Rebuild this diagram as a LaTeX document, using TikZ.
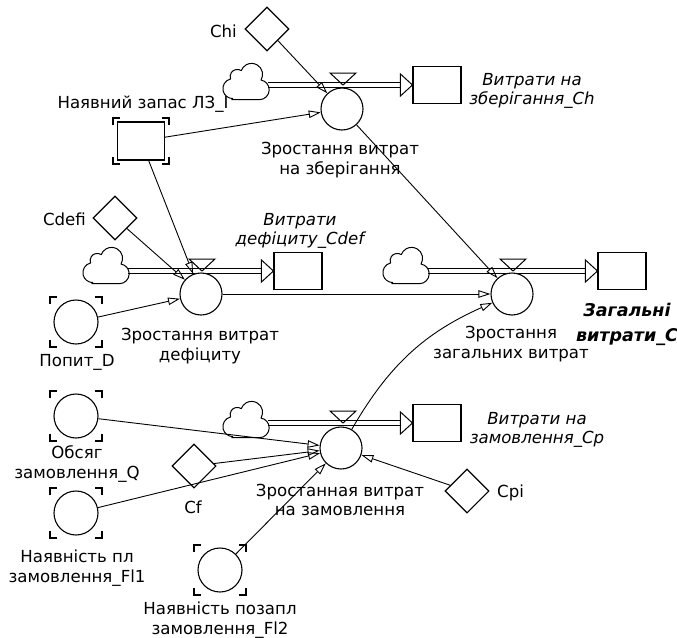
\documentclass[tikz,border=0pt]{standalone}
\usepackage{fontspec}
\setmainfont{DejaVu Sans}
\usetikzlibrary{arrows.meta,shapes.geometric,calc}

\tikzset{
  cloudpic/.pic={
    \draw[scale=1.1, line width=1pt, line join=round, fill=white]
      (-12,17) -- (13,17)
      arc[start angle=90, end angle=-80, radius=9]
      arc[start angle=31, end angle=-160, radius=10]
      arc[start angle=-56, end angle=-200, radius=6.5]
      arc[start angle=-103, end angle=-270, radius=9] -- cycle;
  }
}

\newcommand\flowpipe[2]{%
  \draw[pipeline] ($(#1)+(0,-2.6)$) -- ($(#2.west)+(-12,-2.6)$);
  \draw[pipeline] ($(#1)+(0,2.6)$) -- ($(#2.west)+(-12,2.6)$);
  \draw[flowhead] ($(#2.west)+(-12,-11)$) -- (#2.west) -- ($(#2.west)+(-12,11)$) -- cycle;}
\newcommand\valvemark[1]{%
  \draw[valveline] ($(#1)+(-13,-12)$) -- ($(#1)+(13,-12)$) -- (#1) -- cycle;}
\newcommand\ghostmarks[3]{%
  \draw[bracket] ($(#1)+(-#2,-#3)+(0,7)$) -- ($(#1)+(-#2,-#3)$) -- ($(#1)+(-#2,-#3)+(7,0)$);
  \draw[bracket] ($(#1)+(#2,-#3)+(0,7)$) -- ($(#1)+(#2,-#3)$) -- ($(#1)+(#2,-#3)+(-7,0)$);
  \draw[bracket] ($(#1)+(-#2,#3)+(0,-7)$) -- ($(#1)+(-#2,#3)$) -- ($(#1)+(-#2,#3)+(7,0)$);
  \draw[bracket] ($(#1)+(#2,#3)+(0,-7)$) -- ($(#1)+(#2,#3)$) -- ($(#1)+(#2,#3)+(-7,0)$);}

\begin{document}
\begin{tikzpicture}[x=1pt,y=-1pt,
  lbl/.style={font=\fontsize{16.6}{19.5}\selectfont, align=center, inner sep=0pt},
  ilbl/.style={font=\fontsize{16.6}{19.5}\selectfont\itshape, align=center, inner sep=0pt},
  blbl/.style={font=\fontsize{17.5}{25}\selectfont\bfseries\itshape, align=center, inner sep=0pt},
  rate/.style={circle, draw, fill=white, line width=1.1pt, minimum size=42pt, inner sep=0pt},
  aux/.style={circle, draw, line width=1.1pt, minimum size=44pt, inner sep=0pt},
  stockbox/.style={rectangle, draw, line width=1.1pt, minimum width=48pt, minimum height=37pt, inner sep=0pt},
  const/.style={diamond, draw, line width=1.1pt, minimum size=44pt, inner sep=0pt, aspect=1},
  link/.style={line width=0.9pt, -{Triangle[open, length=12pt, width=7.5pt, line width=0.9pt]}},
  pipeline/.style={line width=1pt},
  flowhead/.style={line width=1pt, line join=miter},
  valveline/.style={line width=1pt, line join=miter},
  bracket/.style={line width=1.1pt},
]
\fill[white] (0,0) rectangle (677,637);
\useasboundingbox (0,0) rectangle (677,637);

% ---------- storage chain ----------
\node[const] (chi) at (267,29) {};
\node[lbl, anchor=east] (chil) at (237,31) {Chi};
\pic at (245,81) {cloudpic};
\coordinate (cl1) at (268,85);
\node[stockbox] (s1) at (437,85) {};
\coordinate (v1) at (343,85);
\flowpipe{cl1}{s1}
\valvemark{v1}
\node[rate] (r1) at (342,109) {};
\node[ilbl] (s1l) at (532,91) {Витрати на\\зберігання\_Ch};
\node[lbl] (r1l) at (340,160) {Зростання витрат\\на зберігання};

\node[stockbox, minimum width=47pt, minimum height=38pt] (inv) at (141,141) {};
\ghostmarks{inv}{28}{23}
\node[lbl] (invl) at (143,104) {Наявний запас ЛЗ\_I};

% ---------- deficit chain ----------
\node[const] (cdefi) at (115,218) {};
\node[lbl, anchor=east] (cdefil) at (86,219) {Cdefi};
\pic at (105,265) {cloudpic};
\coordinate (cl2) at (128,271);
\node[stockbox] (s2) at (298,271) {};
\coordinate (v2) at (202,271);
\flowpipe{cl2}{s2}
\valvemark{v2}
\node[rate] (r2) at (201,294) {};
\node[ilbl] (s2l) at (300,231) {Витрати\\дефіциту\_Cdef};
\node[lbl] (r2l) at (200,346) {Зростання витрат\\дефіциту};

\node[aux] (pop) at (76,322) {};
\ghostmarks{pop}{26}{25}
\node[lbl] (popl) at (77,362) {Попит\_D};

% ---------- total chain ----------
\pic at (405,265) {cloudpic};
\coordinate (cl3) at (428,271);
\node[stockbox] (s3) at (622,271) {};
\coordinate (v3) at (513,271);
\flowpipe{cl3}{s3}
\valvemark{v3}
\node[rate] (r3) at (512,294) {};
\node[blbl] (s3l) at (627,324) {Загальні\\витрати\_C};
\node[lbl] (r3l) at (511,344) {Зростання\\загальних витрат};

% ---------- ordering chain ----------
\pic at (245,419) {cloudpic};
\coordinate (cl4) at (268,423);
\node[stockbox] (s4) at (437,423) {};
\coordinate (v4) at (343,423);
\flowpipe{cl4}{s4}
\valvemark{v4}
\node[rate] (r4) at (341,448) {};
\node[ilbl] (s4l) at (537,430) {Витрати на\\замовлення\_Cp};
\node[lbl] (r4l) at (340,500) {Зростанная витрат\\на замовлення};

\node[aux] (q) at (76,416) {};
\ghostmarks{q}{26}{25}
\node[lbl] (ql) at (77,464) {Обсяг\\замовлення\_Q};
\node[aux] (fl1) at (76,513) {};
\ghostmarks{fl1}{26}{25}
\node[lbl] (fl1l) at (77,568) {Наявність пл\\замовлення\_Fl1};
\node[aux] (fl2) at (220,570) {};
\ghostmarks{fl2}{26}{25}
\node[lbl] (fl2l) at (220,620) {Наявність позапл\\замовлення\_Fl2};
\node[const] (cf) at (194,466) {};
\node[lbl] (cfl) at (193,507) {Cf};
\node[const] (cpi) at (467,491) {};
\node[lbl, anchor=west] (cpil) at (497,493) {Cpi};

% ---------- information links ----------
\draw[link] (chi) -- (r1);
\draw[link] (inv) -- (r1);
\draw[link] (inv) -- (r2);
\draw[link] (cdefi) -- (r2);
\draw[link] (pop) -- (r2);
\draw[link] (r2) -- (r3);
\draw[link] (r1) -- (r3);
\draw[link] (r4) to[bend left=18] (r3);
\draw[link] (q) -- (r4);
\draw[link] (cf) -- (r4);
\draw[link] (fl1) -- (r4);
\draw[link] (fl2) -- (r4);
\draw[link] (cpi) -- (r4);
\end{tikzpicture}
\end{document}
